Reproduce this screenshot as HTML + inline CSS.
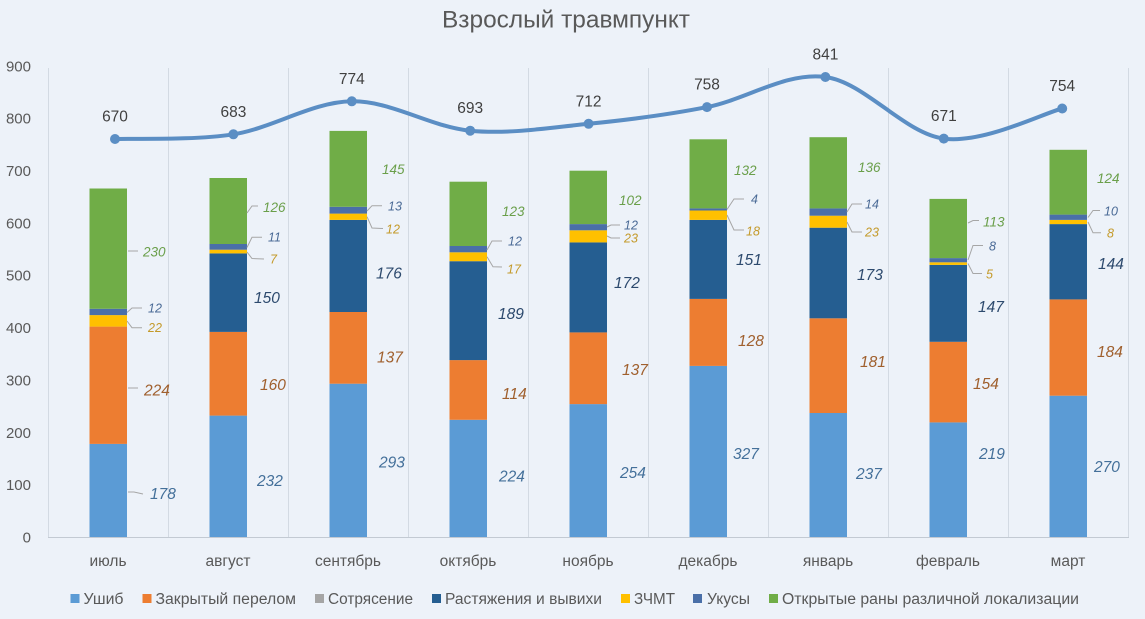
<!DOCTYPE html>
<html><head><meta charset="utf-8"><style>
html,body{margin:0;padding:0;background:#EDF2F9;}
svg{display:block;}
</style></head><body>
<svg width="1145" height="619" viewBox="0 0 1145 619" xmlns="http://www.w3.org/2000/svg" font-family="'Liberation Sans', 'DejaVu Sans', sans-serif">
<rect x="0" y="0" width="1145" height="619" fill="#EDF2F9"/>
<text x="442" y="27.5" font-size="24" fill="#595959" textLength="248" lengthAdjust="spacingAndGlyphs">Взрослый травмпункт</text>
<g stroke="#D3DAE3" stroke-width="1">
<line x1="48.5" y1="68" x2="48.5" y2="537"/><line x1="168.5" y1="68" x2="168.5" y2="537"/><line x1="288.5" y1="68" x2="288.5" y2="537"/><line x1="408.5" y1="68" x2="408.5" y2="537"/><line x1="528.5" y1="68" x2="528.5" y2="537"/><line x1="648.5" y1="68" x2="648.5" y2="537"/><line x1="768.5" y1="68" x2="768.5" y2="537"/><line x1="888.5" y1="68" x2="888.5" y2="537"/><line x1="1008.5" y1="68" x2="1008.5" y2="537"/><line x1="1128.5" y1="68" x2="1128.5" y2="537"/>
</g>
<line x1="48" y1="537.5" x2="1129" y2="537.5" stroke="#C3CAD3" stroke-width="1"/>
<g font-size="15" fill="#595959" text-anchor="end">
<text x="31" y="542.4">0</text><text x="31" y="490.1">100</text><text x="31" y="437.8">200</text><text x="31" y="385.4">300</text><text x="31" y="333.1">400</text><text x="31" y="280.7">500</text><text x="31" y="228.4">600</text><text x="31" y="176.1">700</text><text x="31" y="123.7">800</text><text x="31" y="71.4">900</text>
</g>
<g font-size="15.5" fill="#595959" text-anchor="middle">
<text x="108" y="566">июль</text><text x="228" y="566">август</text><text x="348" y="566">сентябрь</text><text x="468" y="566">октябрь</text><text x="588" y="566">ноябрь</text><text x="708" y="566">декабрь</text><text x="828" y="566">январь</text><text x="948" y="566">февраль</text><text x="1068" y="566">март</text>
</g>
<!-- bars -->
<g>
<rect x="89.5" y="443.9" width="37.5" height="93.1" fill="#5B9BD5"/><rect x="89.5" y="326.6" width="37.5" height="117.3" fill="#ED7D31"/><rect x="89.5" y="315.1" width="37.5" height="11.5" fill="#FFC000"/><rect x="89.5" y="308.8" width="37.5" height="6.3" fill="#4A6FA8"/><rect x="89.5" y="188.5" width="37.5" height="120.3" fill="#70AD47"/>
<rect x="209.5" y="415.6" width="37.5" height="121.4" fill="#5B9BD5"/><rect x="209.5" y="331.9" width="37.5" height="83.7" fill="#ED7D31"/><rect x="209.5" y="253.4" width="37.5" height="78.5" fill="#255E91"/><rect x="209.5" y="249.7" width="37.5" height="3.7" fill="#FFC000"/><rect x="209.5" y="244.0" width="37.5" height="5.7" fill="#4A6FA8"/><rect x="209.5" y="178.0" width="37.5" height="66.0" fill="#70AD47"/>
<rect x="329.5" y="383.7" width="37.5" height="153.3" fill="#5B9BD5"/><rect x="329.5" y="312.0" width="37.5" height="71.7" fill="#ED7D31"/><rect x="329.5" y="219.9" width="37.5" height="92.1" fill="#255E91"/><rect x="329.5" y="213.6" width="37.5" height="6.3" fill="#FFC000"/><rect x="329.5" y="206.8" width="37.5" height="6.8" fill="#4A6FA8"/><rect x="329.5" y="130.9" width="37.5" height="75.9" fill="#70AD47"/>
<rect x="449.5" y="419.8" width="37.5" height="117.2" fill="#5B9BD5"/><rect x="449.5" y="360.1" width="37.5" height="59.7" fill="#ED7D31"/><rect x="449.5" y="261.2" width="37.5" height="98.9" fill="#255E91"/><rect x="449.5" y="252.3" width="37.5" height="8.9" fill="#FFC000"/><rect x="449.5" y="246.0" width="37.5" height="6.3" fill="#4A6FA8"/><rect x="449.5" y="181.7" width="37.5" height="64.3" fill="#70AD47"/>
<rect x="569.5" y="404.1" width="37.5" height="132.9" fill="#5B9BD5"/><rect x="569.5" y="332.4" width="37.5" height="71.7" fill="#ED7D31"/><rect x="569.5" y="242.4" width="37.5" height="90.0" fill="#255E91"/><rect x="569.5" y="230.3" width="37.5" height="12.1" fill="#FFC000"/><rect x="569.5" y="224.1" width="37.5" height="6.2" fill="#4A6FA8"/><rect x="569.5" y="170.7" width="37.5" height="53.4" fill="#70AD47"/>
<rect x="689.5" y="365.9" width="37.5" height="171.1" fill="#5B9BD5"/><rect x="689.5" y="298.9" width="37.5" height="67.0" fill="#ED7D31"/><rect x="689.5" y="219.9" width="37.5" height="79.0" fill="#255E91"/><rect x="689.5" y="210.5" width="37.5" height="9.4" fill="#FFC000"/><rect x="689.5" y="208.4" width="37.5" height="2.1" fill="#4A6FA8"/><rect x="689.5" y="139.3" width="37.5" height="69.1" fill="#70AD47"/>
<rect x="809.5" y="413.0" width="37.5" height="124.0" fill="#5B9BD5"/><rect x="809.5" y="318.3" width="37.5" height="94.7" fill="#ED7D31"/><rect x="809.5" y="227.7" width="37.5" height="90.6" fill="#255E91"/><rect x="809.5" y="215.7" width="37.5" height="12.0" fill="#FFC000"/><rect x="809.5" y="208.4" width="37.5" height="7.3" fill="#4A6FA8"/><rect x="809.5" y="137.2" width="37.5" height="71.2" fill="#70AD47"/>
<rect x="929.5" y="422.4" width="37.5" height="114.6" fill="#5B9BD5"/><rect x="929.5" y="341.8" width="37.5" height="80.6" fill="#ED7D31"/><rect x="929.5" y="264.9" width="37.5" height="76.9" fill="#255E91"/><rect x="929.5" y="262.3" width="37.5" height="2.6" fill="#FFC000"/><rect x="929.5" y="258.1" width="37.5" height="4.2" fill="#4A6FA8"/><rect x="929.5" y="198.9" width="37.5" height="59.2" fill="#70AD47"/>
<rect x="1049.5" y="395.7" width="37.5" height="141.3" fill="#5B9BD5"/><rect x="1049.5" y="299.4" width="37.5" height="96.3" fill="#ED7D31"/><rect x="1049.5" y="224.1" width="37.5" height="75.3" fill="#255E91"/><rect x="1049.5" y="219.9" width="37.5" height="4.2" fill="#FFC000"/><rect x="1049.5" y="214.6" width="37.5" height="5.3" fill="#4A6FA8"/><rect x="1049.5" y="149.8" width="37.5" height="64.8" fill="#70AD47"/>
</g>
<!-- leader lines -->
<g fill="none" stroke="#A6A6A6" stroke-width="1">
<path d="M127,312.5 L132,308 L142,308"/><path d="M127,321 L132,327.7 L142,327.7"/><path d="M128,251 L138,251"/><path d="M128,388 L138,388"/><path d="M128,492 L134,492 L143,494"/>
<path d="M247,247.5 L252,237.3 L262,237.3"/><path d="M247,252 L252,258.5 L264,259"/><path d="M247,213 L252,206 L258,206"/>
<path d="M367,211 L372,205.7 L382,205.7"/><path d="M367,216.7 L372,228 L383,228.5"/>
<path d="M487,250 L492,241 L502,241"/><path d="M487,256.7 L493,266.7 L502,267"/>
<path d="M607,227 L611,225 L620,225"/><path d="M607,236 L611,238 L620,238"/>
<path d="M727,209.5 L734,199 L744,199"/><path d="M727,215 L734,230 L744,230"/>
<path d="M847,212 L852,204 L862,204"/><path d="M847,222 L852,232 L862,232"/>
<path d="M968,223 L973,220.5 L979,220.5"/><path d="M968,260 L973,245.5 L983,245.5"/><path d="M968,263.5 L973,273.5 L982,273.5"/>
<path d="M1088,217.5 L1093,210.5 L1100,210.5"/><path d="M1088,222 L1093,232.7 L1101,232.7"/>
</g>
<!-- data labels -->
<g font-style="italic">
<g font-size="15.5" fill="#44709A">
<text x="150" y="498.8">178</text><text x="257" y="485.8">232</text><text x="379" y="467.5">293</text><text x="499" y="481.5">224</text><text x="620" y="477.8">254</text><text x="733" y="458.8">327</text><text x="856" y="478.8">237</text><text x="979" y="458.8">219</text><text x="1094" y="471.8">270</text>
</g>
<g font-size="15.5" fill="#A0602E">
<text x="144" y="395.3">224</text><text x="260" y="389.8">160</text><text x="377" y="362.5">137</text><text x="502" y="398.8">114</text><text x="622" y="374.8">137</text><text x="738" y="345.8">128</text><text x="860" y="366.8">181</text><text x="973" y="388.8">154</text><text x="1097" y="356.8">184</text>
</g>
<g font-size="15.5" fill="#2D4A6E">
<text x="254" y="302.8">150</text><text x="376" y="278.5">176</text><text x="498" y="318.8">189</text><text x="614" y="287.8">172</text><text x="736" y="264.8">151</text><text x="857" y="279.8">173</text><text x="978" y="311.8">147</text><text x="1098" y="268.8">144</text>
</g>
<g font-size="12.5" fill="#C49A2A">
<text x="148" y="332.2">22</text><text x="270" y="263.5">7</text><text x="386" y="233.5">12</text><text x="507" y="273.5">17</text><text x="624" y="242.5">23</text><text x="746" y="235.5">18</text><text x="865" y="236.5">23</text><text x="986" y="278.5">5</text><text x="1107" y="237.5">8</text>
</g>
<g font-size="12.5" fill="#4A6A96">
<text x="148" y="312.5">12</text><text x="268" y="241.5">11</text><text x="388" y="210.5">13</text><text x="508" y="245.5">12</text><text x="624" y="229.5">12</text><text x="751" y="203.5">4</text><text x="865" y="208.5">14</text><text x="989" y="250.5">8</text><text x="1104" y="215.5">10</text>
</g>
<g font-size="13.5" fill="#6A9F4A">
<text x="143" y="256.5">230</text><text x="263" y="212">126</text><text x="382" y="174">145</text><text x="502" y="216">123</text><text x="619" y="205">102</text><text x="734" y="175">132</text><text x="858" y="172">136</text><text x="983" y="226.5">113</text><text x="1097" y="183">124</text>
</g>
</g>
<!-- line -->
<path d="M115,139 C134.73,138.22 193.93,140.58 233.4,134.3 C272.87,128.02 312.33,101.9 351.8,101.3 C391.27,100.7 430.73,126.95 470.2,130.7 C509.67,134.45 549.13,127.73 588.6,123.8 C628.07,119.87 667.53,114.9 707,107.1 C746.47,99.3 785.93,71.75 825.4,77 C864.87,82.25 904.33,133.35 943.8,138.6 C983.27,143.85 1042.47,113.52 1062.2,108.5" fill="none" stroke="#5B8EC4" stroke-width="4" stroke-linecap="round"/>
<g fill="#5B8EC4">
<circle cx="115" cy="139" r="5"/><circle cx="233.4" cy="134.3" r="5"/><circle cx="351.8" cy="101.3" r="5"/><circle cx="470.2" cy="130.7" r="5"/><circle cx="588.6" cy="123.8" r="5"/><circle cx="707" cy="107.1" r="5"/><circle cx="825.4" cy="77" r="5"/><circle cx="943.8" cy="138.6" r="5"/><circle cx="1062.2" cy="108.5" r="5"/>
</g>
<g font-size="15.5" fill="#404040" text-anchor="middle">
<text x="115" y="121.5">670</text><text x="233.4" y="116.8">683</text><text x="351.8" y="83.8">774</text><text x="470.2" y="113.2">693</text><text x="588.6" y="106.3">712</text><text x="707" y="89.6">758</text><text x="825.4" y="59.5">841</text><text x="943.8" y="121.1">671</text><text x="1062.2" y="91">754</text>
</g>
<!-- legend -->
<rect x="70.5" y="594" width="9" height="9" fill="#5B9BD5"/>
<rect x="142.5" y="594" width="9" height="9" fill="#ED7D31"/>
<rect x="315" y="594" width="9" height="9" fill="#A5A5A5"/>
<rect x="432" y="594" width="9" height="9" fill="#255E91"/>
<rect x="621" y="594" width="9" height="9" fill="#FFC000"/>
<rect x="693" y="594" width="9" height="9" fill="#4A6FA8"/>
<rect x="769" y="594" width="9" height="9" fill="#70AD47"/>
<g font-size="15.5" fill="#595959">
<text x="83.5" y="604" textLength="40" lengthAdjust="spacingAndGlyphs">Ушиб</text>
<text x="155.5" y="604" textLength="140.5" lengthAdjust="spacingAndGlyphs">Закрытый перелом</text>
<text x="328" y="604" textLength="85" lengthAdjust="spacingAndGlyphs">Сотрясение</text>
<text x="445" y="604" textLength="157" lengthAdjust="spacingAndGlyphs">Растяжения и вывихи</text>
<text x="634" y="604" textLength="41" lengthAdjust="spacingAndGlyphs">ЗЧМТ</text>
<text x="707" y="604" textLength="43" lengthAdjust="spacingAndGlyphs">Укусы</text>
<text x="782" y="604" textLength="297" lengthAdjust="spacingAndGlyphs">Открытые раны различной локализации</text>
</g>
</svg>
</body></html>
